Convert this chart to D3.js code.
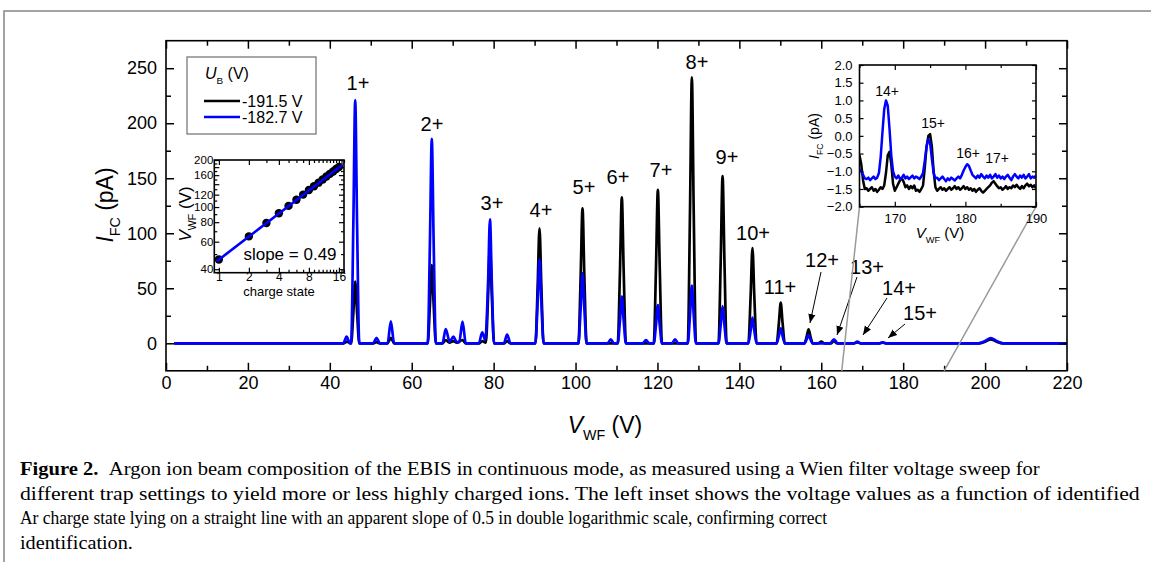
<!DOCTYPE html>
<html>
<head>
<meta charset="utf-8">
<script src="https://cdn.jsdelivr.net/npm/d3@7"></script>
<style>
  body { margin: 0; background: #fff; }
  svg { display: block; font-family: "Liberation Sans", Arial, sans-serif; }
</style>
</head>
<body>
<svg id="fig" width="1151" height="562"></svg>
<script>
// ---- main spectrum: [V_WF (V), I_FC (pA)] ----
const blackTrace = [
  [2, 0], [43.4, 0], [44.2, 1.5], [45.1, 0],
  [45.2, 0], [45.75, 28], [46.2, 56], [46.65, 28], [47.2, 0],
  [50.6, 0], [51.4, 1], [52.2, 0],
  [54.1, 0], [54.9, 5], [55.7, 0],
  [63.9, 0], [64.45, 35.5], [64.9, 71], [65.35, 35.5], [65.9, 0],
  [67.5, 0], [68.3, 3], [69.2, 0.5], [70.2, 2], [71.0, 0.5], [72.4, 3], [73.2, 0],
  [76.4, 0], [77.2, 2], [78.1, 0.5],
  [78.65, 44], [79.1, 88], [79.55, 44], [80.1, 0],
  [82.5, 0], [83.3, 2], [84.1, 0],
  [90.2, 0], [90.75, 52], [91.2, 104.5], [91.65, 52], [92.2, 0],
  [100.7, 0], [101.25, 61], [101.7, 122.7], [102.15, 61], [102.7, 0],
  [110.3, 0], [110.85, 66], [111.3, 132.7], [111.75, 66], [112.3, 0],
  [119.1, 0], [119.65, 70], [120.1, 139.4], [120.55, 70], [121.1, 0],
  [127.4, 0], [127.95, 121], [128.4, 241.8], [128.85, 121], [129.4, 0],
  [134.9, 0], [135.45, 76], [135.9, 152], [136.35, 76], [136.9, 0],
  [142.2, 0], [142.75, 43], [143.2, 86.4], [143.65, 43], [144.2, 0],
  [149.1, 0], [149.65, 18.5], [150.1, 36.9], [150.55, 18.5], [151.1, 0],
  [155.9, 0], [156.45, 6.3], [156.9, 12.7], [157.35, 6.3], [157.9, 0],
  [159.2, 0], [160, 1.5], [160.8, 0],
  [162.3, 0], [163.1, 2], [163.9, 0],
  [168, 0], [168.8, 0.8], [169.6, 0],
  [174.2, 0], [175, 0.5], [175.8, 0],
  [198.5, 0], [200, 1.5], [201.4, 3.5], [202.8, 1.5], [204.3, 0],
  [220, 0]
];
const blueTrace = [
  [2, 0], [43.3, 0], [44.1, 6], [44.9, 0],
  [45.2, 0], [45.75, 110], [46.2, 221], [46.65, 110], [47.2, 0],
  [50.6, 0], [51.4, 5], [52.2, 0],
  [54.1, 0], [54.9, 20], [55.7, 0],
  [63.9, 0], [64.45, 93], [64.9, 185.7], [65.35, 93], [65.9, 0],
  [67.5, 0], [68.3, 13], [69.25, 1.5], [70.2, 6], [71.0, 1], [71.6, 1], [72.4, 19.7], [73.2, 0],
  [76.4, 0], [77.2, 10], [77.95, 3],
  [78.65, 56], [79.1, 112.7], [79.55, 56], [80.1, 0],
  [82.5, 0], [83.3, 8], [84.1, 0],
  [90.2, 0], [90.75, 38], [91.2, 76.6], [91.65, 38], [92.2, 0],
  [100.7, 0], [101.25, 32], [101.7, 63.6], [102.15, 32], [102.7, 0],
  [107.8, 0], [108.6, 3.5], [109.4, 0],
  [110.3, 0], [110.85, 21], [111.3, 42.4], [111.75, 21], [112.3, 0],
  [116.4, 0], [117.2, 3], [118, 0],
  [119.1, 0], [119.65, 17], [120.1, 34.8], [120.55, 17], [121.1, 0],
  [123.5, 0], [124.3, 3.5], [125.1, 0],
  [127.4, 0], [127.95, 26], [128.4, 52.4], [128.85, 26], [129.4, 0],
  [134.9, 0], [135.45, 17], [135.9, 33.9], [136.35, 17], [136.9, 0],
  [142.2, 0], [142.75, 11.5], [143.2, 23.3], [143.65, 11.5], [144.2, 0],
  [149.1, 0], [149.65, 6.8], [150.1, 13.6], [150.55, 6.8], [151.1, 0],
  [155.9, 0], [156.45, 3.7], [156.9, 7.5], [157.35, 3.7], [157.9, 0],
  [162.2, 0], [163.1, 3.6], [164, 0],
  [168, 0], [168.8, 1.5], [169.6, 0],
  [174.2, 0], [175, 0.8], [175.8, 0],
  [198.3, 0], [200, 2], [201.4, 4.8], [202.8, 2], [204.5, 0],
  [220, 0]
];
const seriesNames = ["-191.5 V", "-182.7 V"];
const seriesColors = ["#000000", "#0000ff"];

const xMajor = [0, 20, 40, 60, 80, 100, 120, 140, 160, 180, 200, 220];
const xMinor = [10, 30, 50, 70, 90, 110, 130, 150, 170, 190, 210];
const yMajor = [0, 50, 100, 150, 200, 250];
const yMinor = [25, 75, 125, 175, 225];

const peakLabels = ["1+", "2+", "3+", "4+", "5+", "6+", "7+", "8+", "9+", "10+", "11+", "12+", "13+", "14+", "15+"];

// ---- left inset: peak voltage vs charge state ----
const chargeStates = [1, 2, 3, 4, 5, 6, 7, 8, 9, 10, 11, 12, 13, 14, 15, 16];
const peakVoltages = [46.2, 64.9, 79.1, 91.2, 101.7, 111.3, 120.1, 128.4, 135.9, 143.2, 150.1, 156.9, 163.1, 168.8, 175.0, 180.4];
const fitLine = [[0.95, 44.9], [17.3, 186]];
const fitSlope = "0.49";
const qTicks = [1, 2, 4, 8, 16];
const qMinor = [3, 5, 6, 7, 9, 10, 11, 12, 13, 14, 15, 17, 18];
const vTicks = [40, 60, 80, 100, 120, 140, 160, 180, 200];
const vLabelled = [40, 60, 80, 100, 120, 160, 200];
const vMinor = [50, 70, 90, 110, 130, 150, 170, 190];

// ---- right inset: zoom on 165-190 V (sweep step 0.25 V) ----
const zoomV = d3.range(165, 190.001, 0.25);
const zoomBlack = [
  -0.55, -0.80, -1.25, -1.50, -1.48, -1.55, -1.50, -1.45, -1.55, -1.50,
  -1.58, -1.52, -1.45, -1.50, -1.40, -1.05, -0.55, -0.45, -0.80, -1.35,
  -1.55, -1.45, -1.35, -1.25, -1.20, -1.30, -1.45, -1.40, -1.50, -1.42,
  -1.48, -1.40, -1.55, -1.52, -1.58, -1.50, -1.40, -0.90, -0.30, 0.00,
  0.05, -0.30, -1.00, -1.45, -1.55, -1.50, -1.45, -1.52, -1.48, -1.55,
  -1.50, -1.45, -1.52, -1.48, -1.42, -1.50, -1.45, -1.52, -1.48, -1.42,
  -1.50, -1.45, -1.52, -1.48, -1.55, -1.50, -1.58, -1.52, -1.48, -1.55,
  -1.60, -1.55, -1.50, -1.45, -1.40, -1.32, -1.28, -1.35, -1.42, -1.48,
  -1.45, -1.52, -1.48, -1.42, -1.50, -1.45, -1.48, -1.40, -1.45, -1.38,
  -1.45, -1.50, -1.42, -1.48, -1.40, -1.35, -1.42, -1.38, -1.45, -1.40,
  -1.48
];
const zoomBlue = [
  -0.95, -1.00, -1.10, -1.20, -1.22, -1.18, -1.25, -1.20, -1.15, -1.22,
  -1.18, -1.05, -0.60, 0.10, 0.75, 1.00, 0.85, 0.20, -0.55, -1.00,
  -1.15, -1.20, -1.12, -1.22, -1.18, -1.10, -1.20, -1.15, -1.22, -1.17,
  -1.12, -1.20, -1.15, -1.18, -1.22, -1.15, -1.05, -0.70, -0.30, -0.10,
  -0.20, -0.65, -1.05, -1.20, -1.18, -1.25, -1.20, -1.15, -1.22, -1.28,
  -1.20, -1.25, -1.18, -1.22, -1.26, -1.20, -1.15, -1.20, -1.10, -0.98,
  -0.88, -0.80, -0.85, -0.98, -1.10, -1.15, -1.20, -1.12, -1.18, -1.08,
  -1.15, -1.20, -1.12, -1.18, -1.10, -1.20, -1.15, -1.08, -1.18, -1.12,
  -1.20, -1.15, -1.22, -1.15, -1.10, -1.18, -1.25, -1.15, -1.08, -1.15,
  -1.20, -1.12, -1.18, -1.10, -1.20, -1.15, -1.08, -1.20, -1.15, -1.18,
  -1.12
];
const zoomLabels = ["14+", "15+", "16+", "17+"];
const zoomXTicks = [170, 180, 190];
const zoomXMinor = [165, 175, 185];
const zoomYTicks = [-2, -1.5, -1, -0.5, 0, 0.5, 1, 1.5, 2];

const captionLines = [
  "Argon ion beam composition of the EBIS in continuous mode, as measured using a Wien filter voltage sweep for",
  "different trap settings to yield more or less highly charged ions. The left inset shows the voltage values as a function of identified",
  "Ar charge state lying on a straight line with an apparent slope of 0.5 in double logarithmic scale, confirming correct",
  "identification."
];

// ------------------------------------------------------------------
const FONT = '"Liberation Sans", Arial, sans-serif';
const svg = d3.select("#fig");

// page frame
svg.append("path")
    .attr("d", "M4,562V11H1151")
    .attr("fill", "none")
    .attr("stroke", "#858585")
    .attr("stroke-width", 1.5);

// axes with inward ticks, no domain line (box drawn separately)
function drawAxis(g, axis, fontSize, sw) {
  g.call(axis)
    .attr("font-family", FONT)
    .attr("font-size", fontSize)
    .call(s => s.select(".domain").remove())
    .call(s => s.selectAll(".tick line").attr("stroke-width", sw))
    .call(s => s.selectAll(".tick text").attr("fill", "#000"));
  return g;
}

// subscripted label, e.g. I_FC (pA)
function subText(t, main, sub, rest, size) {
  t.append("tspan").attr("font-style", "italic").text(main);
  t.append("tspan").attr("font-size", size * 0.62).attr("dy", size * 0.32).text(sub);
  t.append("tspan").attr("dy", -size * 0.32).text(" " + rest);
  return t;
}

// ================= main plot =================
const x = d3.scaleLinear([0, 220], [166, 1067]);
const y = d3.scaleLinear([-25, 275], [370.8, 40.7]);
const [x0, x1] = x.range();
const [y0, y1] = y.range();

svg.append("clipPath").attr("id", "clipMain")
  .append("rect").attr("x", x0).attr("y", y1).attr("width", x1 - x0).attr("height", y0 - y1);

const line = d3.line().x(d => x(d[0])).y(d => y(d[1])).curve(d3.curveMonotoneX);
const traces = svg.append("g").attr("clip-path", "url(#clipMain)");
[blackTrace, blueTrace].forEach((tr, i) => {
  traces.append("path")
      .datum(tr)
      .attr("d", line)
      .attr("fill", "none")
      .attr("stroke", seriesColors[i])
      .attr("stroke-width", 2.7)
      .attr("stroke-linejoin", "round");
});

drawAxis(svg.append("g").attr("transform", `translate(0,${y0})`),
  d3.axisBottom(x).tickValues(xMajor).tickSizeInner(-8).tickSizeOuter(0).tickPadding(5), 18, 1.5);
drawAxis(svg.append("g").attr("transform", `translate(0,${y0})`),
  d3.axisBottom(x).tickValues(xMinor).tickSizeInner(-5).tickSizeOuter(0).tickFormat(""), 18, 1.5);
drawAxis(svg.append("g").attr("transform", `translate(0,${y1})`),
  d3.axisTop(x).tickValues(xMajor).tickSizeInner(-8).tickSizeOuter(0).tickFormat(""), 18, 1.5);
drawAxis(svg.append("g").attr("transform", `translate(0,${y1})`),
  d3.axisTop(x).tickValues(xMinor).tickSizeInner(-5).tickSizeOuter(0).tickFormat(""), 18, 1.5);
drawAxis(svg.append("g").attr("transform", `translate(${x0},0)`),
  d3.axisLeft(y).tickValues(yMajor).tickSizeInner(-8).tickSizeOuter(0).tickPadding(9), 18, 1.5);
drawAxis(svg.append("g").attr("transform", `translate(${x0},0)`),
  d3.axisLeft(y).tickValues(yMinor).tickSizeInner(-5).tickSizeOuter(0).tickFormat(""), 18, 1.5);
drawAxis(svg.append("g").attr("transform", `translate(${x1},0)`),
  d3.axisRight(y).tickValues(yMajor).tickSizeInner(-8).tickSizeOuter(0).tickFormat(""), 18, 1.5);
drawAxis(svg.append("g").attr("transform", `translate(${x1},0)`),
  d3.axisRight(y).tickValues(yMinor).tickSizeInner(-5).tickSizeOuter(0).tickFormat(""), 18, 1.5);

svg.append("rect")
    .attr("x", x0).attr("y", y1).attr("width", x1 - x0).attr("height", y0 - y1)
    .attr("fill", "none").attr("stroke", "#000").attr("stroke-width", 1.6);

subText(svg.append("text")
    .attr("x", 605).attr("y", 433)
    .attr("text-anchor", "middle")
    .attr("font-size", 23), "V", "WF", "(V)", 23);
subText(svg.append("text")
    .attr("transform", "translate(113,205) rotate(-90)")
    .attr("text-anchor", "middle")
    .attr("font-size", 23), "I", "FC", "(pA)", 23);

// peak labels (pixel layout)
const peakLabelPos = [
  [358, 83], [432, 124], [492, 203], [541, 210], [584, 187], [618, 177], [661, 170],
  [697, 62], [727, 157], [753, 233], [780, 287], [822, 260], [867, 267], [899, 288], [920, 313]
];
svg.append("g")
    .attr("font-size", 20)
  .selectAll("text")
  .data(peakLabels)
  .join("text")
    .attr("x", (d, i) => peakLabelPos[i][0])
    .attr("y", (d, i) => peakLabelPos[i][1])
    .attr("dy", "0.36em")
    .attr("text-anchor", "middle")
    .text(d => d);

// arrows for 12+ .. 15+
svg.append("defs").append("marker")
    .attr("id", "arr")
    .attr("viewBox", "0 0 10 10")
    .attr("refX", 10).attr("refY", 5)
    .attr("markerWidth", 9).attr("markerHeight", 9)
    .attr("markerUnits", "userSpaceOnUse")
    .attr("orient", "auto")
  .append("path").attr("d", "M0,1L10,5L0,9Z").attr("fill", "#000");
const arrows = [
  [[821, 272], [810, 323]],
  [[857, 277], [837, 335]],
  [[887, 298], [863, 335]],
  [[905, 324], [888, 338]]
];
svg.append("g").selectAll("line")
  .data(arrows)
  .join("line")
    .attr("x1", d => d[0][0]).attr("y1", d => d[0][1])
    .attr("x2", d => d[1][0]).attr("y2", d => d[1][1])
    .attr("stroke", "#000").attr("stroke-width", 1)
    .attr("marker-end", "url(#arr)");

// legend
const lg = svg.append("g").attr("font-size", 16);
lg.append("rect").attr("x", 187).attr("y", 57).attr("width", 129).attr("height", 77)
    .attr("fill", "#fff").attr("stroke", "#7a7a7a").attr("stroke-width", 1.3);
subText(lg.append("text").attr("x", 205).attr("y", 79), "U", "B", "(V)", 16);
seriesNames.forEach((n, i) => {
  lg.append("line").attr("x1", 204).attr("x2", 240)
      .attr("y1", 101 + i * 16).attr("y2", 101 + i * 16)
      .attr("stroke", seriesColors[i]).attr("stroke-width", 2.7);
  lg.append("text").attr("x", 242).attr("y", 101 + i * 16).attr("dy", "0.36em").text(n);
});

// ================= left inset =================
const xl = d3.scaleLog([0.9, 18], [214.3, 344]);
const yl = d3.scaleLog([38, 200], [272.7, 160]);
const [lx0, lx1] = xl.range();
const [ly0, ly1] = yl.range();
const li = svg.append("g");
li.append("rect").attr("x", lx0).attr("y", ly1).attr("width", lx1 - lx0).attr("height", ly0 - ly1)
    .attr("fill", "#fff");
drawAxis(li.append("g").attr("transform", `translate(0,${ly0})`),
  d3.axisBottom(xl).tickValues(qTicks).tickFormat(d3.format("d")).tickSizeInner(-5).tickSizeOuter(0).tickPadding(0), 12, 1.2);
drawAxis(li.append("g").attr("transform", `translate(0,${ly0})`),
  d3.axisBottom(xl).tickValues(qMinor).tickFormat("").tickSizeInner(-3).tickSizeOuter(0), 12, 1.2);
drawAxis(li.append("g").attr("transform", `translate(0,${ly1})`),
  d3.axisTop(xl).tickValues(qTicks).tickFormat("").tickSizeInner(-5).tickSizeOuter(0), 12, 1.2);
drawAxis(li.append("g").attr("transform", `translate(0,${ly1})`),
  d3.axisTop(xl).tickValues(qMinor).tickFormat("").tickSizeInner(-3).tickSizeOuter(0), 12, 1.2);
drawAxis(li.append("g").attr("transform", `translate(${lx0},0)`),
  d3.axisLeft(yl).tickValues(vTicks).tickFormat(v => vLabelled.includes(v) ? v : "")
    .tickSizeInner(-5).tickSizeOuter(0).tickPadding(1), 11.5, 1.2);
drawAxis(li.append("g").attr("transform", `translate(${lx0},0)`),
  d3.axisLeft(yl).tickValues(vMinor).tickFormat("").tickSizeInner(-3).tickSizeOuter(0), 12, 1.2);
drawAxis(li.append("g").attr("transform", `translate(${lx1},0)`),
  d3.axisRight(yl).tickValues(vTicks).tickFormat("").tickSizeInner(-5).tickSizeOuter(0), 12, 1.2);
drawAxis(li.append("g").attr("transform", `translate(${lx1},0)`),
  d3.axisRight(yl).tickValues(vMinor).tickFormat("").tickSizeInner(-3).tickSizeOuter(0), 12, 1.2);

li.selectAll("circle")
  .data(chargeStates)
  .join("circle")
    .attr("cx", d => xl(d))
    .attr("cy", (d, i) => yl(peakVoltages[i]))
    .attr("r", 4.2)
    .attr("fill", "#000");
li.append("path")
    .datum(fitLine)
    .attr("d", d3.line().x(d => xl(d[0])).y(d => yl(d[1])))
    .attr("stroke", "#0000ff").attr("stroke-width", 2.6).attr("fill", "none");
li.append("rect").attr("x", lx0).attr("y", ly1).attr("width", lx1 - lx0).attr("height", ly0 - ly1)
    .attr("fill", "none").attr("stroke", "#000").attr("stroke-width", 1.6);
li.append("text").attr("x", 290).attr("y", 254).attr("dy", "0.36em")
    .attr("text-anchor", "middle").attr("font-size", 17).text("slope = " + fitSlope);
li.append("text").attr("x", 279).attr("y", 291).attr("dy", "0.36em")
    .attr("text-anchor", "middle").attr("font-size", 13).text("charge state");
subText(li.append("text")
    .attr("transform", "translate(191,214) rotate(-90)")
    .attr("text-anchor", "middle").attr("font-size", 17), "V", "WF", "(V)", 17);

// ================= right inset =================
const xr = d3.scaleLinear([165, 190], [859.5, 1036]);
const yr = d3.scaleLinear([-2, 2], [206.7, 65]);
const [rx0, rx1] = xr.range();
const [ry0, ry1] = yr.range();

// connector lines from the main axis to the inset corners
svg.append("g").selectAll("line")
  .data([[165, rx0], [190, rx1]])
  .join("line")
    .attr("x1", d => x(d[0])).attr("y1", y0)
    .attr("x2", d => d[1]).attr("y2", ry0)
    .attr("stroke", "#9a9a9a").attr("stroke-width", 1.5);

const ri = svg.append("g");
ri.append("rect").attr("x", rx0).attr("y", ry1).attr("width", rx1 - rx0).attr("height", ry0 - ry1)
    .attr("fill", "#fff");
svg.append("clipPath").attr("id", "clipR")
  .append("rect").attr("x", rx0).attr("y", ry1).attr("width", rx1 - rx0).attr("height", ry0 - ry1);
const zline = d3.line().x((d, i) => xr(zoomV[i])).y(d => yr(d));
[zoomBlack, zoomBlue].forEach((s, i) => {
  ri.append("path")
      .datum(s)
      .attr("clip-path", "url(#clipR)")
      .attr("d", zline)
      .attr("fill", "none")
      .attr("stroke", seriesColors[i])
      .attr("stroke-width", 2.5)
      .attr("stroke-linejoin", "round");
});
drawAxis(ri.append("g").attr("transform", `translate(0,${ry0})`),
  d3.axisBottom(xr).tickValues(zoomXTicks).tickSizeInner(-5).tickSizeOuter(0).tickPadding(7), 13, 1.2);
drawAxis(ri.append("g").attr("transform", `translate(0,${ry0})`),
  d3.axisBottom(xr).tickValues(zoomXMinor).tickFormat("").tickSizeInner(-3).tickSizeOuter(0), 13, 1.2);
drawAxis(ri.append("g").attr("transform", `translate(0,${ry1})`),
  d3.axisTop(xr).tickValues(zoomXTicks).tickFormat("").tickSizeInner(-5).tickSizeOuter(0), 13, 1.2);
drawAxis(ri.append("g").attr("transform", `translate(0,${ry1})`),
  d3.axisTop(xr).tickValues(zoomXMinor).tickFormat("").tickSizeInner(-3).tickSizeOuter(0), 13, 1.2);
drawAxis(ri.append("g").attr("transform", `translate(${rx0},0)`),
  d3.axisLeft(yr).tickValues(zoomYTicks).tickFormat(d3.format(".1f")).tickSizeInner(-4).tickSizeOuter(0).tickPadding(7), 13, 1.2);
drawAxis(ri.append("g").attr("transform", `translate(${rx1},0)`),
  d3.axisRight(yr).tickValues(zoomYTicks).tickFormat("").tickSizeInner(-4).tickSizeOuter(0), 13, 1.2);
ri.append("rect").attr("x", rx0).attr("y", ry1).attr("width", rx1 - rx0).attr("height", ry0 - ry1)
    .attr("fill", "none").attr("stroke", "#000").attr("stroke-width", 1.6);

const zoomLabelPos = [[887, 91], [933, 123], [968, 153], [997, 158]];
ri.append("g").attr("font-size", 14)
  .selectAll("text")
  .data(zoomLabels)
  .join("text")
    .attr("x", (d, i) => zoomLabelPos[i][0])
    .attr("y", (d, i) => zoomLabelPos[i][1])
    .attr("dy", "0.36em")
    .attr("text-anchor", "middle")
    .text(d => d);
subText(ri.append("text")
    .attr("x", 940).attr("y", 238)
    .attr("text-anchor", "middle").attr("font-size", 15), "V", "WF", "(V)", 15);
subText(ri.append("text")
    .attr("transform", "translate(819,136) rotate(-90)")
    .attr("text-anchor", "middle").attr("font-size", 14), "I", "FC", "(pA)", 14);

// ================= caption =================
// each line squeezed horizontally to the width it has in the figure
const capWidths = [1020, 1121, 808, 113];
const cap = svg.append("g")
    .attr("font-family", '"Liberation Serif", "Times New Roman", serif')
    .attr("font-size", 19.5);
captionLines.forEach((txt, i) => {
  const t = cap.append("text");
  if (i === 0) {
    t.append("tspan").attr("font-weight", "bold").text("Figure 2.");
    t.append("tspan").text("\u00a0\u00a0" + txt);
  } else {
    t.text(txt);
  }
  const natural = t.node().getComputedTextLength();
  t.attr("transform", `translate(20,${475 + i * 24.5}) scale(${capWidths[i] / natural},1)`);
});
</script>
</body>
</html>
